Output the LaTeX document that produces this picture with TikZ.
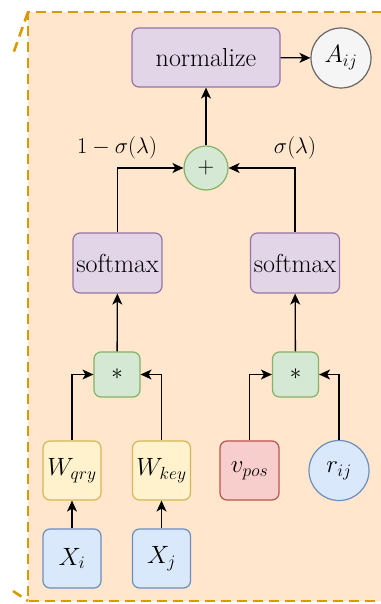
\RequirePackage{fix-cm}
\documentclass[tikz,border=0pt]{standalone}
\usetikzlibrary{arrows.meta,positioning}
\definecolor{peach}{HTML}{FFE6CC}
\definecolor{gold}{HTML}{D79B00}
\definecolor{purfill}{HTML}{E1D5E7}
\definecolor{purdraw}{HTML}{9673A6}
\definecolor{grfill}{HTML}{D5E8D4}
\definecolor{grdraw}{HTML}{82B366}
\definecolor{yefill}{HTML}{FFF2CC}
\definecolor{yedraw}{HTML}{D6B656}
\definecolor{refill}{HTML}{F8CECC}
\definecolor{redraw}{HTML}{B85450}
\definecolor{blfill}{HTML}{DAE8FC}
\definecolor{bldraw}{HTML}{6C8EBF}
\definecolor{gyfill}{HTML}{F5F5F5}
\definecolor{gydraw}{HTML}{666666}
\tikzset{
  base/.style={line width=1.2pt, rounded corners=7pt, inner sep=0pt, font=\fontsize{25}{29}\selectfont, text=black},
  txt/.style={font=\fontsize{26}{30}\selectfont},
  purbox/.style={base, txt, draw=purdraw, fill=purfill},
  grbox/.style={base, draw=grdraw, fill=grfill, minimum width=46pt, minimum height=45pt},
  yebox/.style={base, draw=yedraw, fill=yefill, minimum width=58pt, minimum height=59pt},
  rebox/.style={base, draw=redraw, fill=refill, minimum width=59pt, minimum height=59pt},
  blbox/.style={base, draw=bldraw, fill=blfill, minimum width=58pt, minimum height=59pt},
  circ/.style={circle, line width=1.2pt, inner sep=0pt, font=\fontsize{25}{29}\selectfont, text=black},
  conn/.style={line width=1.3pt, -{Stealth[length=11pt,width=10pt,inset=3pt]}},
  lab/.style={font=\fontsize{22.5}{27}\selectfont, text=black},
  border/.style={gold, line width=2.6pt, dash pattern=on 10pt off 6pt}
}
\begin{document}
\begin{tikzpicture}[x=1pt,y=-1pt]
\useasboundingbox (0,0) rectangle (380,604);
% background
\fill[peach] (28,12) rectangle (382,601);
\draw[border] (382,12) -- (28,12) -- (28,601) -- (382,601);
\draw[border] (28,12) -- (12,57);
\draw[border] (13,591) -- (28,601);
% nodes
\node[purbox, minimum width=148pt, minimum height=59pt] (norm) at (206,57.5) {normalize};
\node[circ, draw=gydraw, fill=gyfill, minimum size=60pt] (A) at (341,58) {$A_{ij}$};
\node[circ, draw=grdraw, fill=grfill, minimum size=44pt, font=\fontsize{23}{27}\selectfont] (plus) at (206,168) {$+$};
\node[lab] (l1) at (117,148) {$1-\sigma(\lambda)$};
\node[lab] (l2) at (295,148) {$\sigma(\lambda)$};
\node[purbox, minimum width=89pt, minimum height=60pt] (sm1) at (117.5,263) {softmax};
\node[purbox, minimum width=89pt, minimum height=60pt] (sm2) at (295,263) {softmax};
\node[grbox, font=\fontsize{23}{27}\selectfont] (m1) at (117,374.5) {$*$};
\node[grbox, font=\fontsize{23}{27}\selectfont] (m2) at (295.5,374.5) {$*$};
\node[yebox] (wq) at (72,470.5) {$W_{qry}$};
\node[yebox] (wk) at (161.5,470.5) {$W_{key}$};
\node[rebox] (vp) at (249.5,470.5) {$v_{pos}$};
\node[circ, draw=bldraw, fill=blfill, minimum size=60pt] (r) at (339,470.5) {$r_{ij}$};
\node[blbox] (xi) at (72,558.5) {$X_i$};
\node[blbox] (xj) at (161.5,558.5) {$X_j$};
% connectors
\draw[conn] (norm) -- (A);
\draw[conn] (plus) -- (norm);
\draw[conn] (sm1.north) |- (plus.west);
\draw[conn] (sm2.north) |- (plus.east);
\draw[conn] (m1) -- (sm1);
\draw[conn] (m2) -- (sm2);
\draw[conn] (wq.north) |- (m1.west);
\draw[conn] (wk.north) |- (m1.east);
\draw[conn] (vp.north) |- (m2.west);
\draw[conn] (r.north) |- (m2.east);
\draw[conn] (xi) -- (wq);
\draw[conn] (xj) -- (wk);
\end{tikzpicture}
\end{document}
